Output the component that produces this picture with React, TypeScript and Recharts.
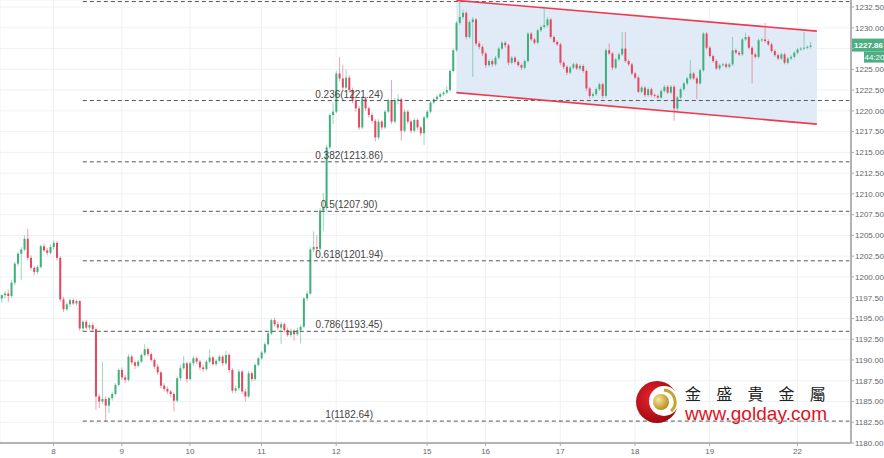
import React from "react";
import {
  Area,
  Bar,
  CartesianGrid,
  ComposedChart,
  ReferenceDot,
  ReferenceLine,
  XAxis,
  YAxis,
} from "recharts";

type Candle = [number, number, number, number]; // open, high, low, close

const UP = "#3fb07b";
const DOWN = "#e5475f";
const TAG = "#4dae83";
const CHANNEL = "#ee3a4e";
const GRID = "#eef1f5";

// hourly candles, one array per trading day
const dayPrev: Candle[] = [
  [1197.4, 1197.9, 1196.9, 1197.8], [1197.8, 1198.3, 1197.4, 1198.0], [1198.0, 1198.5, 1197.0, 1197.7],
  [1197.7, 1199.6, 1197.5, 1199.3], [1199.3, 1201.8, 1199.0, 1201.6], [1201.6, 1203.0, 1201.3, 1202.8],
  [1202.8, 1203.6, 1199.6, 1203.3], [1203.3, 1205.0, 1203.1, 1204.6], [1204.6, 1205.8, 1202.0, 1202.3],
  [1202.3, 1202.6, 1200.8, 1201.1], [1201.1, 1201.3, 1200.2, 1200.6], [1200.6, 1201.4, 1200.3, 1201.2],
  [1201.2, 1203.9, 1201.0, 1203.7], [1203.7, 1204.0, 1203.0, 1203.2], [1203.2, 1203.5, 1202.6, 1202.9],
  [1202.9, 1203.9, 1202.7, 1203.6],
];
const day08: Candle[] = [
  [1203.6, 1204.4, 1203.3, 1204.1], [1204.1, 1204.3, 1202.0, 1202.3], [1202.3, 1202.5, 1197.0, 1197.3],
  [1197.3, 1197.6, 1195.8, 1196.1], [1196.1, 1196.9, 1195.9, 1196.7], [1196.7, 1197.4, 1196.4, 1197.2],
  [1197.2, 1197.4, 1196.6, 1196.8], [1196.8, 1197.3, 1196.5, 1197.1], [1197.1, 1197.2, 1193.5, 1193.8],
  [1193.8, 1194.8, 1193.5, 1194.6], [1194.6, 1194.8, 1193.7, 1193.9], [1193.9, 1194.4, 1193.6, 1194.2],
  [1194.2, 1194.5, 1193.4, 1193.7], [1193.7, 1193.9, 1184.0, 1185.6], [1185.6, 1185.9, 1184.2, 1185.0],
  [1185.0, 1189.8, 1184.7, 1185.3], [1185.3, 1185.6, 1182.6, 1184.5], [1184.5, 1185.6, 1183.6, 1185.4],
  [1185.4, 1186.1, 1185.1, 1185.9], [1185.9, 1187.2, 1185.7, 1187.0], [1187.0, 1189.0, 1186.8, 1188.8],
];
const day09: Candle[] = [
  [1188.8, 1189.1, 1187.6, 1187.9], [1187.9, 1188.2, 1187.2, 1187.6], [1187.6, 1190.7, 1187.4, 1190.4],
  [1190.4, 1190.6, 1189.4, 1189.7], [1189.7, 1189.9, 1188.9, 1189.3], [1189.3, 1190.0, 1189.1, 1189.8],
  [1189.8, 1190.8, 1189.6, 1190.6], [1190.6, 1191.9, 1190.4, 1191.3], [1191.3, 1191.5, 1190.4, 1190.7],
  [1190.7, 1190.9, 1189.8, 1190.0], [1190.0, 1190.2, 1188.9, 1189.2], [1189.2, 1189.5, 1188.2, 1188.5],
  [1188.5, 1188.7, 1186.6, 1186.9], [1186.9, 1187.2, 1186.2, 1186.5], [1186.5, 1186.8, 1185.9, 1186.2],
  [1186.2, 1186.4, 1185.5, 1185.9], [1185.9, 1186.1, 1183.8, 1185.1], [1185.1, 1188.0, 1184.9, 1187.8],
  [1187.8, 1189.4, 1187.5, 1189.0], [1189.0, 1190.5, 1188.8, 1189.6], [1189.6, 1189.8, 1187.3, 1187.7],
];
const day10: Candle[] = [
  [1187.7, 1189.8, 1187.5, 1189.6], [1189.6, 1190.5, 1189.3, 1190.2], [1190.2, 1190.4, 1189.5, 1189.8],
  [1189.8, 1190.0, 1188.8, 1189.1], [1189.1, 1189.4, 1188.6, 1188.9], [1188.9, 1190.0, 1188.7, 1189.8],
  [1189.8, 1191.3, 1189.6, 1190.3], [1190.3, 1190.5, 1189.3, 1189.5], [1189.5, 1190.1, 1189.3, 1189.9],
  [1189.9, 1190.6, 1189.7, 1190.4], [1190.4, 1190.6, 1189.3, 1189.6], [1189.6, 1191.1, 1189.4, 1190.6],
  [1190.6, 1190.8, 1188.5, 1188.8], [1188.8, 1189.0, 1186.0, 1186.3], [1186.3, 1186.9, 1186.0, 1186.6],
  [1186.6, 1188.9, 1186.3, 1188.6], [1188.6, 1188.8, 1185.9, 1186.2], [1186.2, 1186.5, 1185.0, 1185.6],
  [1185.6, 1188.7, 1185.4, 1188.4], [1188.4, 1188.6, 1187.4, 1187.7], [1187.7, 1189.6, 1187.5, 1189.4],
  [1189.4, 1190.4, 1189.2, 1190.2],
];
const day11: Candle[] = [
  [1190.2, 1191.1, 1190.0, 1190.9], [1190.9, 1192.1, 1190.7, 1191.9], [1191.9, 1193.4, 1191.7, 1193.2],
  [1193.2, 1195.0, 1193.0, 1194.8], [1194.8, 1195.1, 1194.0, 1194.3], [1194.3, 1194.6, 1193.6, 1193.9],
  [1193.9, 1194.6, 1191.9, 1194.3], [1194.3, 1194.5, 1193.3, 1193.6], [1193.6, 1193.9, 1192.8, 1193.0],
  [1193.0, 1193.8, 1192.7, 1193.5], [1193.5, 1193.7, 1192.3, 1193.1], [1193.1, 1193.9, 1192.9, 1193.6],
  [1193.6, 1194.2, 1192.0, 1194.0], [1194.0, 1197.6, 1193.8, 1197.4], [1197.4, 1198.3, 1197.1, 1198.0],
  [1198.0, 1203.6, 1197.8, 1203.3], [1203.3, 1205.5, 1203.0, 1203.6], [1203.6, 1205.0, 1202.7, 1203.4],
  [1203.4, 1208.3, 1203.2, 1208.0], [1208.0, 1210.1, 1205.5, 1208.3], [1208.3, 1215.9, 1208.0, 1215.6],
  [1215.6, 1219.7, 1215.4, 1219.5], [1219.5, 1221.0, 1218.4, 1219.9],
];
const day12: Candle[] = [
  [1219.9, 1224.8, 1219.7, 1224.5], [1224.5, 1226.5, 1223.6, 1223.9], [1223.9, 1225.5, 1222.5, 1222.8],
  [1222.8, 1225.0, 1222.6, 1224.0], [1224.0, 1224.3, 1222.2, 1222.5], [1222.5, 1222.8, 1220.9, 1221.2],
  [1221.2, 1221.5, 1219.9, 1220.3], [1220.3, 1220.6, 1217.7, 1218.0], [1218.0, 1221.8, 1217.8, 1221.5],
  [1221.5, 1221.7, 1220.0, 1220.3], [1220.3, 1220.5, 1219.2, 1219.5], [1219.5, 1219.8, 1218.5, 1218.8],
  [1218.8, 1219.0, 1216.3, 1216.8], [1216.8, 1219.0, 1216.5, 1218.7], [1218.7, 1218.9, 1217.7, 1218.0],
  [1218.0, 1220.1, 1217.8, 1219.9], [1219.9, 1221.5, 1219.7, 1221.3], [1221.3, 1223.7, 1218.4, 1218.7],
  [1218.7, 1221.6, 1218.5, 1221.3], [1221.3, 1222.0, 1220.8, 1221.4], [1221.4, 1221.6, 1216.4, 1217.6],
  [1217.6, 1220.2, 1217.4, 1219.9], [1219.9, 1220.1, 1218.4, 1218.7], [1218.7, 1218.9, 1217.3, 1217.6],
  [1217.6, 1219.1, 1217.4, 1218.9], [1218.9, 1219.1, 1217.7, 1218.0], [1218.0, 1218.2, 1217.0, 1217.3],
  [1217.3, 1219.4, 1215.9, 1219.2],
];
const day15: Candle[] = [
  [1219.2, 1220.1, 1219.0, 1219.9], [1219.9, 1221.2, 1219.7, 1221.0], [1221.0, 1221.6, 1220.8, 1221.4],
  [1221.4, 1221.9, 1221.2, 1221.7], [1221.7, 1222.2, 1221.5, 1222.0], [1222.0, 1222.4, 1221.8, 1222.2],
  [1222.2, 1223.0, 1222.0, 1222.5], [1222.5, 1225.0, 1222.3, 1224.8], [1224.8, 1227.5, 1224.6, 1227.3],
  [1227.3, 1230.8, 1227.1, 1230.6], [1230.6, 1233.2, 1230.4, 1231.3], [1231.3, 1232.2, 1231.0, 1231.8],
  [1231.8, 1232.0, 1228.6, 1228.9], [1228.9, 1230.9, 1228.7, 1230.7], [1230.7, 1231.3, 1224.1, 1231.0],
  [1231.0, 1231.2, 1227.8, 1228.1], [1228.1, 1228.4, 1227.4, 1227.7], [1227.7, 1227.9, 1226.6, 1226.9],
];
const day16: Candle[] = [
  [1226.9, 1227.1, 1225.2, 1225.5], [1225.5, 1226.2, 1225.3, 1226.0], [1226.0, 1226.2, 1225.3, 1225.6],
  [1225.6, 1226.6, 1225.4, 1226.4], [1226.4, 1227.7, 1226.2, 1227.5], [1227.5, 1228.4, 1227.3, 1228.2],
  [1228.2, 1228.4, 1227.6, 1227.9], [1227.9, 1228.1, 1225.5, 1225.8], [1225.8, 1226.6, 1225.6, 1226.4],
  [1226.4, 1226.6, 1225.7, 1225.9], [1225.9, 1226.1, 1225.3, 1225.5], [1225.5, 1225.7, 1224.9, 1225.2],
  [1225.2, 1226.2, 1225.0, 1226.0], [1226.0, 1229.5, 1225.8, 1229.3], [1229.3, 1229.5, 1228.4, 1228.6],
  [1228.6, 1228.8, 1228.0, 1228.2], [1228.2, 1229.9, 1228.0, 1229.7], [1229.7, 1230.3, 1229.5, 1230.1],
  [1230.1, 1232.3, 1229.9, 1230.3], [1230.3, 1231.3, 1230.1, 1231.0], [1231.0, 1231.2, 1228.7, 1228.9],
  [1228.9, 1229.1, 1228.1, 1228.3], [1228.3, 1228.5, 1227.8, 1228.0],
];
const day17: Candle[] = [
  [1228.0, 1228.2, 1225.5, 1225.8], [1225.8, 1226.0, 1225.0, 1225.3], [1225.3, 1225.5, 1224.3, 1224.6],
  [1224.6, 1225.4, 1224.4, 1225.2], [1225.2, 1225.8, 1225.0, 1225.6], [1225.6, 1225.8, 1224.9, 1225.1],
  [1225.1, 1225.6, 1224.9, 1225.4], [1225.4, 1225.6, 1224.6, 1224.8], [1224.8, 1225.0, 1222.4, 1222.7],
  [1222.7, 1222.9, 1221.5, 1221.8], [1221.8, 1222.2, 1221.6, 1222.0], [1222.0, 1222.8, 1221.8, 1222.6],
  [1222.6, 1223.4, 1222.4, 1223.2], [1223.2, 1223.4, 1221.5, 1221.8], [1221.8, 1227.5, 1221.6, 1227.3],
  [1227.3, 1228.1, 1226.7, 1226.9], [1226.9, 1227.1, 1224.9, 1225.2], [1225.2, 1226.4, 1225.0, 1226.2],
  [1226.2, 1227.0, 1226.0, 1226.8], [1226.8, 1229.5, 1226.6, 1227.5], [1227.5, 1229.5, 1225.8, 1226.0],
  [1226.0, 1226.2, 1225.4, 1225.6], [1225.6, 1225.8, 1224.3, 1224.5],
];
const day18: Candle[] = [
  [1224.5, 1224.7, 1223.8, 1224.0], [1224.0, 1224.2, 1222.1, 1222.3], [1222.3, 1223.0, 1222.1, 1222.8],
  [1222.8, 1223.0, 1221.7, 1221.9], [1221.9, 1222.8, 1221.7, 1222.6], [1222.6, 1222.8, 1221.7, 1221.9],
  [1221.9, 1222.1, 1221.6, 1221.8], [1221.8, 1222.0, 1221.4, 1221.6], [1221.6, 1222.6, 1221.4, 1222.4],
  [1222.4, 1223.1, 1222.2, 1222.9], [1222.9, 1223.1, 1222.0, 1222.2], [1222.2, 1223.1, 1222.0, 1222.9],
  [1222.9, 1223.1, 1218.8, 1220.3], [1220.3, 1221.8, 1220.0, 1221.6], [1221.6, 1222.8, 1221.4, 1222.6],
  [1222.6, 1223.5, 1222.4, 1223.3], [1223.3, 1224.1, 1223.1, 1223.9], [1223.9, 1226.1, 1223.7, 1224.5],
  [1224.5, 1224.7, 1223.7, 1223.9], [1223.9, 1224.1, 1221.4, 1223.3], [1223.3, 1225.1, 1223.1, 1224.9],
  [1224.9, 1229.5, 1224.7, 1229.3], [1229.3, 1229.5, 1227.4, 1227.6],
];
const day19: Candle[] = [
  [1227.6, 1227.8, 1226.4, 1226.6], [1226.6, 1226.8, 1225.8, 1226.0], [1226.0, 1226.2, 1224.9, 1225.1],
  [1225.1, 1225.7, 1224.9, 1225.5], [1225.5, 1225.8, 1225.3, 1225.6], [1225.6, 1225.8, 1225.1, 1225.3],
  [1225.3, 1225.8, 1225.1, 1225.6], [1225.6, 1228.9, 1225.4, 1227.3], [1227.3, 1227.5, 1226.8, 1227.0],
  [1227.0, 1227.2, 1226.6, 1226.8], [1226.8, 1228.8, 1226.6, 1228.6], [1228.6, 1229.4, 1228.4, 1228.9],
  [1228.9, 1229.1, 1227.4, 1227.6], [1227.6, 1227.8, 1223.3, 1226.8], [1226.8, 1227.0, 1226.3, 1226.5],
  [1226.5, 1228.7, 1226.3, 1228.5], [1228.5, 1228.8, 1228.3, 1228.6], [1228.6, 1230.6, 1228.2, 1228.4],
  [1228.4, 1228.6, 1227.8, 1228.0], [1228.0, 1228.2, 1227.0, 1227.2], [1227.2, 1227.4, 1226.5, 1226.7],
  [1226.7, 1226.9, 1226.1, 1226.3], [1226.3, 1227.0, 1226.1, 1226.8], [1226.8, 1227.0, 1225.6, 1225.8],
  [1225.8, 1226.5, 1225.6, 1226.3], [1226.3, 1226.7, 1226.1, 1226.5], [1226.5, 1227.2, 1226.3, 1227.0],
];
const day22: Candle[] = [
  [1227.0, 1227.6, 1226.8, 1227.4], [1227.4, 1227.7, 1227.2, 1227.5], [1227.5, 1229.5, 1227.3, 1227.6],
  [1227.6, 1227.9, 1227.4, 1227.7], [1227.7, 1228.3, 1227.5, 1227.86],
];

const days: { label: string; bars: Candle[] }[] = [
  { label: "", bars: dayPrev },
  { label: "8", bars: day08 },
  { label: "9", bars: day09 },
  { label: "10", bars: day10 },
  { label: "11", bars: day11 },
  { label: "12", bars: day12 },
  { label: "15", bars: day15 },
  { label: "16", bars: day16 },
  { label: "17", bars: day17 },
  { label: "18", bars: day18 },
  { label: "19", bars: day19 },
  { label: "22", bars: day22 },
];
const emptySlots = 12; // right-side room after the last bar

const priceTicks = [
  1180, 1182.5, 1185, 1187.5, 1190, 1192.5, 1195, 1197.5, 1200, 1202.5, 1205,
  1207.5, 1210, 1212.5, 1215, 1217.5, 1220, 1222.5, 1225, 1227.5, 1230, 1232.5,
];

// fibonacci retracement
const fibRatios = ["0", "0.236", "0.382", "0.5", "0.618", "0.786", "1"];
const fibLevels = [1233.16, 1221.24, 1213.86, 1207.9, 1201.94, 1193.45, 1182.64];
const fibFromBar = 25;
const fibLabelBar = 107;

// descending channel: [start bar, end bar], prices at each end
const channelBars = [140, 251];
const channelUpper = [1233.3, 1229.6];
const channelLower = [1222.2, 1218.4];

const lastPrice = 1227.86;
const countdown = "44:20";

const rows: any[] = [];
const dayTicks: number[] = [];
const tickLabel: Record<number, string> = {};
days.forEach((d) => {
  if (d.label) {
    dayTicks.push(rows.length);
    tickLabel[rows.length] = d.label;
  }
  d.bars.forEach(([o, h, l, c]) => {
    rows.push({ i: rows.length, o, h, l, c, range: [l, h] });
  });
});
for (let k = 0; k < emptySlots; k++) rows.push({ i: rows.length });
channelBars.forEach((b, k) => {
  rows[b].ch = [channelLower[k], channelUpper[k]];
});
const lastBar = rows.length - 1;

function CandleShape(props: any) {
  const { x, y, width, height, payload } = props;
  if (!payload || payload.o == null) return null;
  const top = Math.min(y, y + height);
  const bot = Math.max(y, y + height);
  const span = payload.h - payload.l;
  const toY = (v: number) => (span > 0 ? top + ((payload.h - v) / span) * (bot - top) : top);
  const up = payload.c >= payload.o;
  const color = up ? UP : DOWN;
  const yo = toY(payload.o);
  const yc = toY(payload.c);
  const cx = x + width / 2;
  return (
    <g>
      <line x1={cx} x2={cx} y1={top} y2={bot} stroke={color} strokeOpacity={0.5} strokeWidth={1} />
      <rect x={x} y={Math.min(yo, yc)} width={width} height={Math.max(0.9, Math.abs(yo - yc))} fill={color} />
    </g>
  );
}

function PriceTag(props: any) {
  const vb = props.viewBox;
  if (!vb) return null;
  const x = vb.x + vb.width;
  const y = vb.y;
  return (
    <g>
      <rect x={x + 1} y={y - 7} width={33} height={13} fill={TAG} />
      <text x={x + 17.5} y={y + 2.5} textAnchor="middle" fontSize={8} fontWeight="bold" fill="#fff">
        {lastPrice.toFixed(2)}
      </text>
      <rect x={x + 13} y={y + 6} width={21} height={11} fill={TAG} />
      <text x={x + 23.5} y={y + 14.5} textAnchor="middle" fontSize={8} fill="#fff">
        {countdown}
      </text>
    </g>
  );
}

function GoldayLogo() {
  return (
    <svg width={220} height={52} style={{ position: "absolute", left: 634, top: 378 }}>
      <defs>
        <radialGradient id="logoRed" cx="40%" cy="40%" r="65%">
          <stop offset="0%" stopColor="#ea2530" />
          <stop offset="100%" stopColor="#9a0812" />
        </radialGradient>
        <radialGradient id="logoGold" cx="35%" cy="35%" r="70%">
          <stop offset="0%" stopColor="#f6e7a0" />
          <stop offset="100%" stopColor="#b38b17" />
        </radialGradient>
      </defs>
      <circle cx={23} cy={24} r={21} fill="url(#logoRed)" />
      <circle cx={30} cy={23} r={15} fill="#fff" />
      <path d="M 30 12 A 12 12 0 0 1 37 33" stroke="#c9a230" strokeWidth={3} fill="none" />
      <circle cx={27} cy={24} r={8} fill="url(#logoGold)" />
      <text x={51} y={22} fontSize={16} letterSpacing={15.2} fill="#222" fontFamily="'Noto Sans CJK TC', sans-serif">
        金盛貴金屬
      </text>
      <text x={51} y={42} fontSize={19} fill="#e3101c" fontFamily="'Liberation Sans', Arial, sans-serif" textLength={142}>
        www.golday.com
      </text>
    </svg>
  );
}

export default function App() {
  return (
    <div style={{ position: "absolute", left: 0, top: 0, width: 884, height: 458, background: "#fff", fontFamily: "'Liberation Sans', Arial, sans-serif" }}>
      <ComposedChart
        width={884}
        height={458}
        data={rows}
        margin={{ top: 0, right: 0, bottom: 0, left: 0 }}
        barCategoryGap="24%"
      >
        <CartesianGrid stroke={GRID} strokeWidth={1} />
        <XAxis
          dataKey="i"
          type="category"
          ticks={dayTicks}
          interval={0}
          tickFormatter={(v) => tickLabel[v] ?? ""}
          height={15}
          tick={{ fontSize: 8, fill: "#666" }}
          tickLine={{ stroke: "#aaa" }}
          tickSize={3}
          axisLine={{ stroke: "#b3b3b3", strokeWidth: 2 }}
        />
        <YAxis
          orientation="right"
          width={33}
          domain={[1180, 1233.35]}
          allowDataOverflow
          ticks={priceTicks}
          interval={0}
          // the tick hidden behind the last-price tag gets no label
          tickFormatter={(v) => (Math.abs(Number(v) - lastPrice) < 1.5 ? "" : Number(v).toFixed(2))}
          tick={{ fontSize: 8, fill: "#666" }}
          tickLine={{ stroke: "#aaa" }}
          tickSize={3}
          tickMargin={1}
          axisLine={{ stroke: "#b3b3b3", strokeWidth: 2 }}
        />
        <Area
          dataKey="ch"
          type="linear"
          connectNulls
          stroke="none"
          fill="#dce8f6"
          fillOpacity={0.85}
          isAnimationActive={false}
          dot={false}
          activeDot={false}
        />
        {fibLevels.map((lv, k) => (
          <ReferenceLine
            key={"fib" + k}
            segment={[{ x: fibFromBar, y: lv }, { x: lastBar, y: lv }]}
            stroke="#555"
            strokeWidth={1}
            strokeDasharray="4 3"
          />
        ))}
        <ReferenceLine
          segment={[{ x: channelBars[0], y: channelUpper[0] }, { x: channelBars[1], y: channelUpper[1] }]}
          stroke={CHANNEL}
          strokeWidth={1.6}
        />
        <ReferenceLine
          segment={[{ x: channelBars[0], y: channelLower[0] }, { x: channelBars[1], y: channelLower[1] }]}
          stroke={CHANNEL}
          strokeWidth={1.6}
        />
        <Bar dataKey="range" shape={(p: any) => <CandleShape {...p} />} isAnimationActive={false} />
        {fibLevels.map((lv, k) =>
          fibRatios[k] === "0" ? null : (
            <ReferenceDot
              key={"fl" + k}
              x={fibLabelBar}
              y={lv}
              r={0}
              fill="none"
              stroke="none"
              label={{ value: `${fibRatios[k]}(${lv.toFixed(2)})`, position: "top", offset: 3, fontSize: 10, fill: "#444" }}
            />
          )
        )}
        <ReferenceLine y={lastPrice} stroke="none" ifOverflow="visible" label={<PriceTag />} />
      </ComposedChart>
      <GoldayLogo />
    </div>
  );
}
